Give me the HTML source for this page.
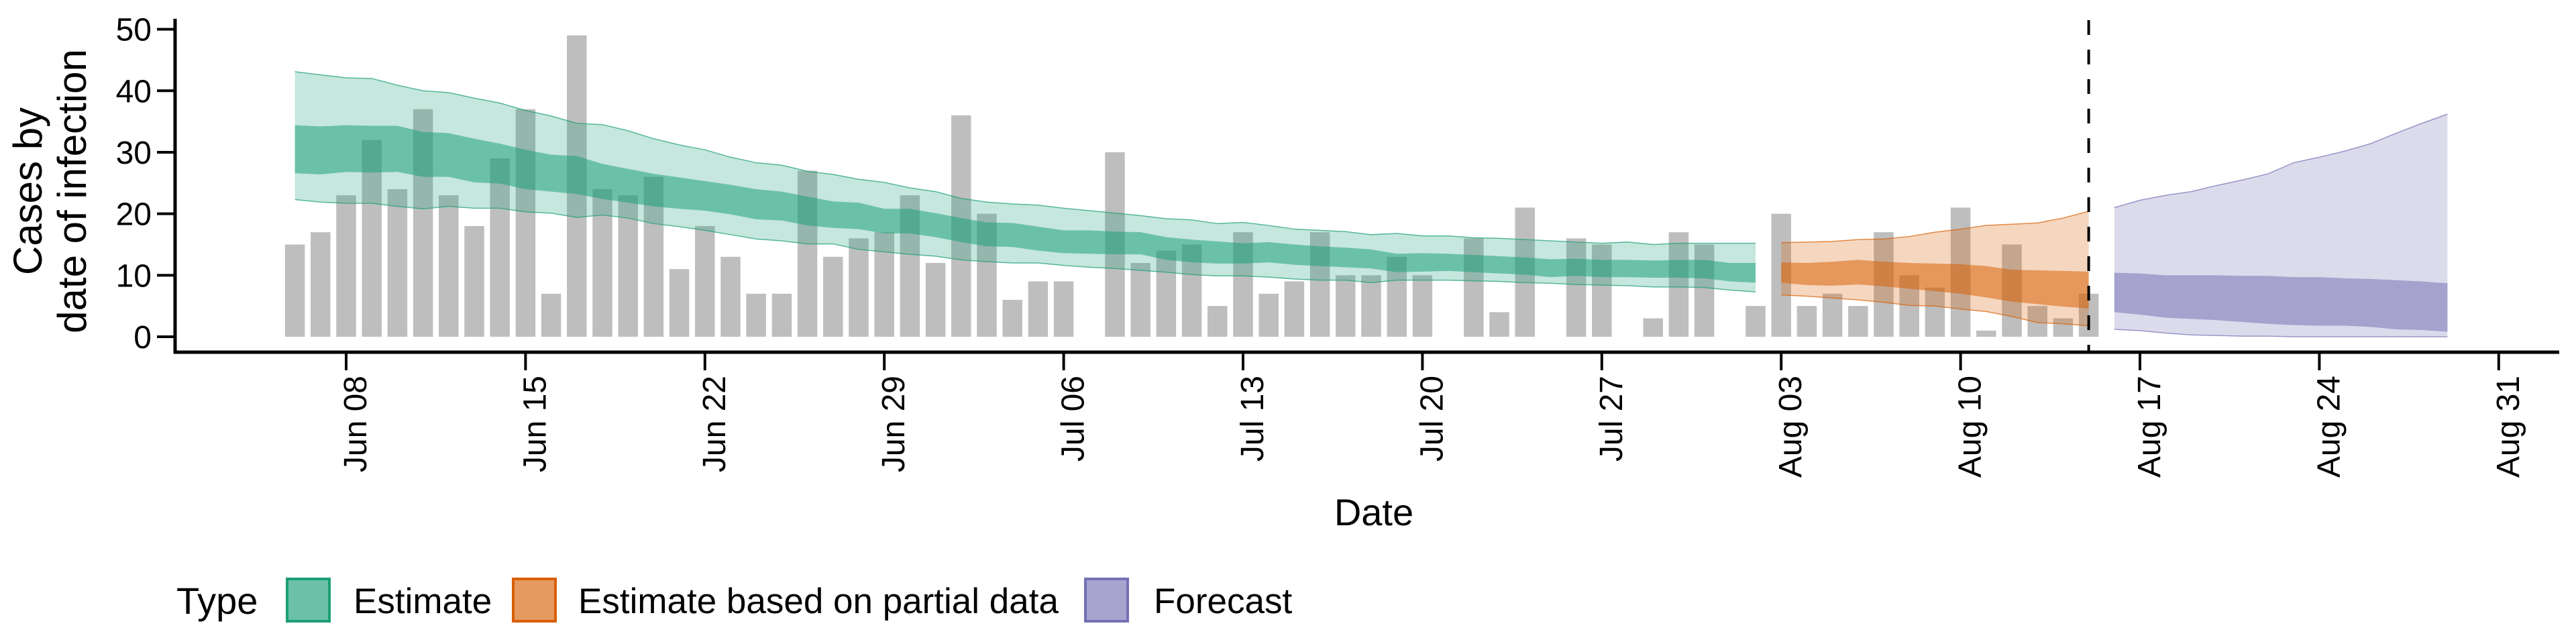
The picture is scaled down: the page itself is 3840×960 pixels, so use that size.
<!DOCTYPE html>
<html><head><meta charset="utf-8"><style>
html,body{margin:0;padding:0;background:#fff;}
svg{display:block;font-family:"Liberation Sans",Arial,sans-serif;}
</style></head><body>
<svg id="chart" width="3840" height="960" viewBox="0 0 3840 960">
<g id="bars"></g>
<g id="bands"></g>
<g id="axes"></g>
<text x="62" y="285" transform="rotate(-90 62 285)" text-anchor="middle" font-size="60">Cases by</text>
<text x="128" y="285" transform="rotate(-90 128 285)" text-anchor="middle" font-size="60">date of infection</text>
<text x="2048" y="783" text-anchor="middle" font-size="56">Date</text>
<g>
<text x="263" y="915" font-size="56">Type</text>
<g>
<rect x="428" y="863" width="63" height="63" fill="#6cc0a8" stroke="#1b9e77" stroke-width="4"/>
<text x="527" y="914" font-size="53">Estimate</text></g>
<g>
<rect x="765" y="863" width="63" height="63" fill="#e59a5f" stroke="#d95f02" stroke-width="4"/>
<text x="862" y="914" font-size="53">Estimate based on partial data</text></g>
<g>
<rect x="1618" y="863" width="63" height="63" fill="#a7a4cf" stroke="#7570b3" stroke-width="4"/>
<text x="1720" y="914" font-size="53">Forecast</text></g>
</g>
</svg>
<script>
// day index 0 = Jun 06
const cases = [15,17,23,32,24,37,23,18,29,37,7,49,24,23,26,11,18,13,7,7,27,13,
16,17,23,12,36,20,6,9,9,0,30,12,14,15,5,17,7,9,17,10,10,13,10,0,16,4,21,0,16,15,0,3,17,15,
0,5,20,5,7,5,17,10,8,21,1,15,5,3,7];
const estStart = 0;
const estOuterHi = [43.1,42.6,42.1,42,40.9,40,39.7,38.8,38,36.8,35.9,34.7,34.5,33.5,32.2,31.2,30.4,29.2,28.3,27.9,26.9,26.4,25.6,25.1,24.2,23.6,22.5,21.9,21.6,21.4,20.9,20.5,20.1,19.7,19.2,19,18.4,18.6,18.1,17.5,17.3,17.1,16.6,16.8,16.4,16.4,16.1,16,15.8,15.6,15.4,15.2,15.4,15,15.2,15.2,15.2,15.2];
const estInnerHi = [34.4,34.2,34.4,34.3,34.3,33.3,33.1,32.2,31.4,30.4,29.6,29.4,28.1,27.3,26.5,25.9,25.3,24.7,24,23.6,22.8,22,21.8,20.8,20.8,20.1,19.3,18.6,18.5,17.9,17.3,17.3,17.1,17,16.2,15.8,15.5,15.2,15.4,15,14.7,14.5,14.2,13.5,13.6,13.5,13.3,13.1,12.9,12.6,12.7,12.5,12.5,12.4,12.5,12.5,12,12];
const estInnerLo = [26.6,26.4,26.8,26.7,26.8,26,26,25.1,24.9,24,23.6,23.2,22.4,21.8,21.2,20.8,20.5,19.9,19.1,18.9,18.1,17.7,17.5,16.8,16.8,16.2,15.4,14.7,14.6,14,13.6,13.5,13.4,13.4,12.5,12.1,11.9,11.9,12.1,11.7,11.5,11.3,11.1,10.5,10.6,10.7,10.5,10.3,10.1,9.7,9.9,9.7,9.7,9.6,9.6,9.5,9,8.8];
const estOuterLo = [22.3,21.9,21.7,21.7,21.2,20.8,21.2,20.9,20.9,20.3,20.1,19.4,19.8,19.3,18.4,17.9,17.3,16.6,15.9,15.6,15.1,15.1,14.2,13.8,13.4,13.1,12.5,12.2,12,12,11.6,11.3,11.1,10.8,10.5,10.1,9.9,9.9,9.7,9.4,9.2,9.2,8.8,9.2,9.2,9.2,9.1,9,8.8,8.7,8.5,8.4,8.3,8.1,8.1,8,7.6,7.3];
const partStart = 58;
const partOuterHi = [15.3,15.4,15.5,15.8,15.9,16.3,17,17.5,18.1,18.3,18.5,19.3,20.4];
const partInnerHi = [12.1,12,12.2,12.5,12.2,12,11.9,11.8,11.5,10.9,10.8,10.7,10.6];
const partInnerLo = [8.8,8.4,8.3,8.5,8.2,7.8,7.4,7,6.4,5.7,5.3,4.9,4.6];
const partOuterLo = [6.8,6.6,6.3,6,5.6,5.1,5,4.5,4.1,3.3,2.3,2.1,1.8];
const fcStart = 71;
const fcOuterHi = [21,22.2,23,23.6,24.6,25.5,26.5,28.3,29.2,30.2,31.4,33.1,34.7,36.2];
const fcInnerHi = [10.4,10.3,10,10,10,9.9,9.9,9.7,9.7,9.5,9.4,9.2,9,8.7];
const fcInnerLo = [4,3.6,3.1,2.9,2.7,2.4,2.1,1.9,1.8,1.8,1.6,1.2,1.1,0.8];
const fcOuterLo = [1.2,1,0.6,0.3,0.2,0.1,0.1,0,0,0,0,0,0,0];
const yTicks = [0,10,20,30,40,50];
const xTickLabels = ["Jun 08","Jun 15","Jun 22","Jun 29","Jul 06","Jul 13","Jul 20","Jul 27","Aug 03","Aug 10","Aug 17","Aug 24","Aug 31"];
const xTickDays = [2,9,16,23,30,37,44,51,58,65,72,79,86];
const nowcastDay = 70;

const NS="http://www.w3.org/2000/svg";
const X = d => 516 + 38.2*(d-2);
const Y = v => 502 - v*9.168;
function mk(tag, attrs, parent){const e=document.createElementNS(NS,tag);for(const k in attrs)e.setAttribute(k,attrs[k]);parent.appendChild(e);return e;}

const barsG=document.getElementById('bars');
cases.forEach((v,i)=>{
  const w=29.5;
  const r=mk('rect',{x:X(i)-w/2,y:Y(v),width:w,height:Math.max(0,Y(0)-Y(v)),fill:'#bebebe'},barsG);
  
  
});

const bandsG=document.getElementById('bands');
function band(start,hi,lo,fill,op,stroke,name){
  let pts=hi.map((v,i)=>X(start+i)+','+Y(v));
  pts=pts.concat(lo.map((v,i)=>X(start+i)+','+Y(v)).reverse());
  const p=mk('polygon',{points:pts.join(' '),fill:fill,'fill-opacity':op},bandsG);
  
  
  if(stroke){
    const l1=mk('polyline',{points:hi.map((v,i)=>X(start+i)+','+Y(v)).join(' '),fill:'none',stroke:fill,'stroke-width':1.5,'stroke-opacity':0.7},bandsG);
    
    
    const l2=mk('polyline',{points:lo.map((v,i)=>X(start+i)+','+Y(v)).join(' '),fill:'none',stroke:fill,'stroke-width':1.5,'stroke-opacity':0.7},bandsG);
    
    
  }
}
band(estStart,estOuterHi,estOuterLo,'#1b9e77',0.25,true,'estimate-outer-band');
band(estStart,estInnerHi,estInnerLo,'#1b9e77',0.53,false,'estimate-inner-band');
band(partStart,partOuterHi,partOuterLo,'#d95f02',0.25,true,'partial-outer-band');
band(partStart,partInnerHi,partInnerLo,'#d95f02',0.53,false,'partial-inner-band');
band(fcStart,fcOuterHi,fcOuterLo,'#7570b3',0.25,true,'forecast-outer-band');
band(fcStart,fcInnerHi,fcInnerLo,'#7570b3',0.53,false,'forecast-inner-band');

const ax=document.getElementById('axes');
const dl=mk('line',{x1:X(nowcastDay),x2:X(nowcastDay),y1:30,y2:525,stroke:'#000','stroke-width':4,'stroke-dasharray':'22 22'},ax);


const ya=mk('line',{x1:261,x2:261,y1:28,y2:527,stroke:'#000','stroke-width':5},ax);


const xa=mk('line',{x1:259,x2:3815,y1:525,y2:525,stroke:'#000','stroke-width':5},ax);


yTicks.forEach(v=>{
  const t=mk('line',{x1:234,x2:261,y1:Y(v),y2:Y(v),stroke:'#000','stroke-width':4},ax);
  
  
  const tx=mk('text',{x:226,y:Y(v)+17,'text-anchor':'end','font-size':48},ax);
  tx.textContent=v;
  
  
});
xTickDays.forEach((d,i)=>{
  const x=X(d);
  const t=mk('line',{x1:x,x2:x,y1:525,y2:552,stroke:'#000','stroke-width':4},ax);
  
  
  const tx=mk('text',{x:x+30,y:560,'text-anchor':'end','font-size':48,transform:'rotate(-90 '+(x+30)+' 560)'},ax);
  tx.textContent=xTickLabels[i];
  
  
});
</script>
</body></html>
